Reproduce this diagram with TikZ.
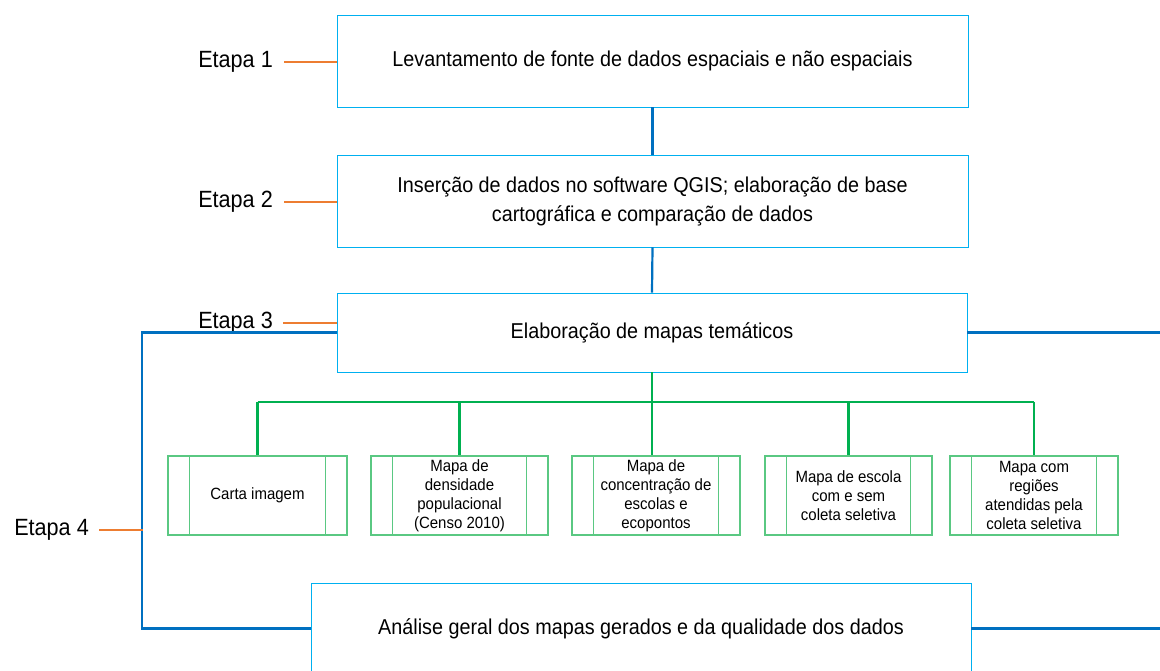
\documentclass[tikz,border=0pt]{standalone}
\usepackage{fontspec}
\setmainfont{Liberation Sans}[FakeStretch=0.92]
\definecolor{boxblue}{RGB}{0,176,240}
\definecolor{linkblue}{RGB}{0,112,192}
\definecolor{etorange}{RGB}{237,125,49}
\definecolor{linkgreen}{RGB}{0,176,80}
\definecolor{subgreen}{RGB}{90,200,130}
\tikzset{
  mainbox/.style={draw=boxblue, line width=0.9pt, fill=white, minimum width=631pt, minimum height=92pt, align=center, inner sep=0pt, font=\fontsize{21.5}{29}\selectfont},
  subbox/.style={draw=subgreen, line width=1.3pt, fill=white, minimum height=79pt, align=center, inner sep=0pt, font=\fontsize{16.3}{19}\selectfont,
    path picture={
      \draw[subgreen, line width=1.3pt] ([xshift=21.5pt]path picture bounding box.north west) -- ([xshift=21.5pt]path picture bounding box.south west);
      \draw[subgreen, line width=1.3pt] ([xshift=-21.5pt]path picture bounding box.north east) -- ([xshift=-21.5pt]path picture bounding box.south east);
    }},
  etlabel/.style={anchor=east, inner ysep=0pt, font=\fontsize{23.5}{28}\selectfont},
  etline/.style={draw=etorange, line width=2.2pt},
  bluelink/.style={draw=linkblue, line width=2.2pt},
  greenlink/.style={draw=linkgreen, line width=2.2pt},
}
\begin{document}
\begin{tikzpicture}[x=1pt, y=-1pt]
\useasboundingbox (0,0) rectangle (1160,670);
\fill[white] (0,0) rectangle (1160,670);

% main boxes
\node[mainbox] (b1) at (652.5,61) {Levantamento de fonte de dados espaciais e não espaciais};
\node[mainbox] (b2) at (652.5,201) {Inserção de dados no software QGIS; elaboração de base\\cartográfica e comparação de dados};
\node[mainbox, minimum width=630pt, minimum height=79pt] (b3) at (652,332.5) {Elaboração de mapas temáticos};
\node[mainbox, minimum width=660pt, minimum height=91pt] (b4) at (641,628.5) {Análise geral dos mapas gerados e da qualidade dos dados};

% sub boxes
\node[subbox, minimum width=179pt] (s1) at (257.5,495.5) {Carta imagem};
\node[subbox, minimum width=177pt] (s2) at (459.5,495.5) {Mapa de\\densidade\\populacional\\(Censo 2010)};
\node[subbox, minimum width=168pt] (s3) at (656,495.5) {Mapa de\\concentração de\\escolas e\\ecopontos};
\node[subbox, minimum width=167pt] (s4) at (848.5,495.5) {Mapa de escola\\com e sem\\coleta seletiva};
\node[subbox, minimum width=168pt] (s5) at (1034,495.5) {Mapa com\\regiões\\atendidas pela\\coleta seletiva};

% labels
\node[etlabel, inner xsep=11pt] (e1) at (284,62) {Etapa 1};
\node[etlabel, inner xsep=11pt] (e2) at (284,202) {Etapa 2};
\node[etlabel, inner xsep=10pt] (e3) at (283,323) {Etapa 3};
\node[etlabel, inner xsep=10pt] (e4) at (99,530) {Etapa 4};

% coordinates
\coordinate (hy) at (652,402);
\coordinate (lc) at (142,332.5);
\coordinate (lb) at (142,628.5);
\coordinate (j4) at (143,530);
\coordinate (r3) at (1160,332.5);
\coordinate (r4) at (1160,628.5);

% blue links
\draw[bluelink] (b1.south) -- (b2.north);
\draw[bluelink] (b2.south) -- (b3.north);
\draw[bluelink] (b3.west) -- (lc) -- (lb) -- (b4.west);
\draw[bluelink] (b3.east) -- (r3);
\draw[bluelink] (b4.east) -- (r4);

% green links
\draw[greenlink] (b3.south) -- (hy);
\draw[greenlink] (hy -| s1.north) -- (hy -| s5.north);
\draw[greenlink] (hy -| s1.north) -- (s1.north);
\draw[greenlink] (hy -| s2.north) -- (s2.north);
\draw[greenlink] (hy) -- (hy |- s3.north);
\draw[greenlink] (hy -| s4.north) -- (s4.north);
\draw[greenlink] (hy -| s5.north) -- (s5.north);

% orange label lines
\draw[etline] (e1.east) -- (b1.west |- e1.east);
\draw[etline] (e2.east) -- (b2.west |- e2.east);
\draw[etline] (e3.east) -- (b3.west |- e3.east);
\draw[etline] (e4.east) -- (j4);
\end{tikzpicture}
\end{document}
